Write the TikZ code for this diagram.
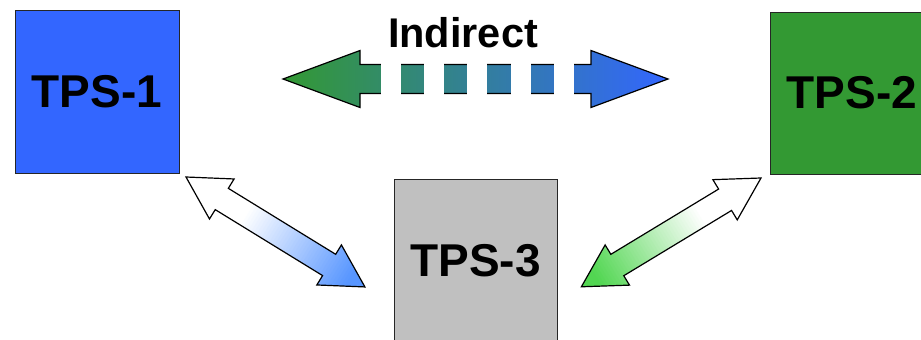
\documentclass[tikz,border=0pt]{standalone}
\usepackage{fontspec}
\setmainfont{Liberation Sans}
\usetikzlibrary{calc}

\definecolor{tpsblue}{RGB}{51,102,255}
\definecolor{tpsgreen}{RGB}{51,153,51}
\definecolor{tpsgray}{RGB}{192,192,192}
\definecolor{fadeblue}{RGB}{88,150,255}
\definecolor{fadegreen}{RGB}{82,214,82}

\tikzset{
  tpsbox/.style={draw=black!85, line width=1pt, rectangle, inner sep=0pt,
                 font=\fontsize{46}{50}\selectfont\bfseries},
  arrowline/.style={draw=black, line width=1.2pt, line join=miter},
  gapfill/.style={fill=white},
}

% Double-headed block arrow fading from white (start) to colour #4 (end).
% #1 start coordinate, #2 direction angle, #3 length, #4 end colour
\newcommand\fadearrow[4]{%
  \begin{scope}[shift={(#1)}, rotate=#2]
    \begin{scope}
      \clip (0,0) -- (42,23.5) -- (42,12.5) -- ({#3-42},12.5) -- ({#3-42},23.5)
        -- (#3,0) -- ({#3-42},-23.5) -- ({#3-42},-12.5) -- (42,-12.5) -- (42,-23.5) -- cycle;
      \foreach \i in {0,...,69} {
        \pgfmathsetmacro\pct{max(0,min(100,(\i/70-0.33)/0.58*100))}
        \fill[#4!\pct!white] ({\i*#3/70},-26) rectangle ({(\i+1)*#3/70+0.6},26);
      }
    \end{scope}
    \draw[arrowline] (0,0) -- (42,23.5) -- (42,12.5) -- ({#3-42},12.5) -- ({#3-42},23.5)
      -- (#3,0) -- ({#3-42},-23.5) -- ({#3-42},-12.5) -- (42,-12.5) -- (42,-23.5) -- cycle;
  \end{scope}%
}

\begin{document}
\begin{tikzpicture}[x=1pt, y=-1pt]
\useasboundingbox (0,0) rectangle (921,340);
\clip (0,0) rectangle (921,340);

% the three systems
\node[tpsbox, fill=tpsblue, minimum width=164, minimum height=163] (tps1) at (97,91.5) {TPS-1};
\node[tpsbox, fill=tpsgreen, minimum width=164, minimum height=162] (tps2) at (852,93) {TPS-2};
\node[tpsbox, fill=tpsgray, minimum width=163, minimum height=163] (tps3) at (475.5,260.5) {TPS-3};

% indirect link between TPS-1 and TPS-2
\node[font=\fontsize{41.5}{44}\selectfont\bfseries, anchor=base, inner sep=0pt] (indirect) at (463,47) {Indirect};
\coordinate (indL) at (283,79);
\coordinate (indR) at (668,79);
\shade[left color=tpsgreen, right color=tpsblue]
  (indL) -- ($(indL)+(77,-28.5)$) -- ($(indL)+(77,-14.5)$) -- ($(indR)+(-77,-14.5)$)
  -- ($(indR)+(-77,-28.5)$) -- (indR) -- ($(indR)+(-77,28.5)$) -- ($(indR)+(-77,14.5)$)
  -- ($(indL)+(77,14.5)$) -- ($(indL)+(77,28.5)$) -- cycle;
\draw[arrowline]
  (indL) -- ($(indL)+(77,-28.5)$) -- ($(indL)+(77,-14.5)$) -- ($(indR)+(-77,-14.5)$)
  -- ($(indR)+(-77,-28.5)$) -- (indR) -- ($(indR)+(-77,28.5)$) -- ($(indR)+(-77,14.5)$)
  -- ($(indL)+(77,14.5)$) -- ($(indL)+(77,28.5)$) -- cycle;
% gaps of the dashed shaft
\foreach \gx in {381,424,467,511,554} {
  \fill[gapfill] (\gx,62) rectangle ({\gx+20},96);
}

% direct links to TPS-3
\coordinate (a13) at (186,177);
\coordinate (a23) at (761,178);
\fadearrow{a13}{-31.57}{210}{fadeblue}
\fadearrow{a23}{211.2}{210}{fadegreen}
\end{tikzpicture}
\end{document}
